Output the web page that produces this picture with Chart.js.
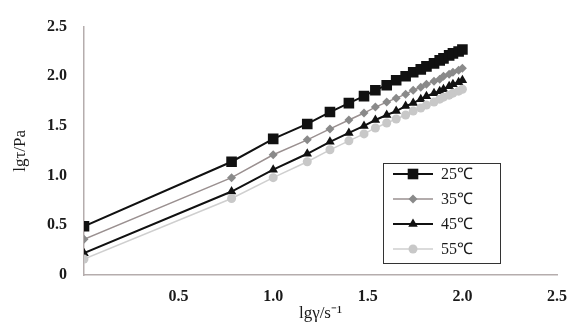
<!DOCTYPE html>
<html>
<head>
<meta charset="utf-8">
<script src="https://cdn.jsdelivr.net/npm/chart.js@4.4.1/dist/chart.umd.min.js"></script>
<style>
html,body{margin:0;padding:0;background:#fff;}
#wrap{width:579px;height:330px;position:relative;}
</style>
</head>
<body>
<div id="wrap"><canvas id="c" width="579" height="330"></canvas></div>
<script>
const lgRate = [0, 0.78, 1.0, 1.18, 1.30, 1.40, 1.48, 1.54, 1.60, 1.65, 1.70, 1.74, 1.78, 1.81, 1.85, 1.88, 1.90, 1.93, 1.95, 1.98, 2.0];
const t25 = [0.49, 1.14, 1.37, 1.52, 1.64, 1.73, 1.80, 1.86, 1.91, 1.96, 2.00, 2.04, 2.07, 2.10, 2.13, 2.16, 2.18, 2.21, 2.23, 2.25, 2.27];
const t35 = [0.36, 0.98, 1.21, 1.36, 1.47, 1.56, 1.63, 1.69, 1.74, 1.78, 1.82, 1.86, 1.89, 1.92, 1.95, 1.97, 2.00, 2.02, 2.04, 2.06, 2.08];
const t45 = [0.22, 0.84, 1.06, 1.22, 1.34, 1.43, 1.50, 1.56, 1.61, 1.65, 1.70, 1.73, 1.77, 1.80, 1.83, 1.85, 1.87, 1.90, 1.92, 1.94, 1.96];
const t55 = [0.16, 0.77, 0.98, 1.14, 1.26, 1.35, 1.42, 1.48, 1.53, 1.57, 1.61, 1.65, 1.68, 1.71, 1.74, 1.77, 1.79, 1.81, 1.83, 1.85, 1.87];
const seriesLabels = ['25℃', '35℃', '45℃', '55℃'];
const xTicks = [0.5, 1.0, 1.5, 2.0, 2.5];
const yTicks = [0, 0.5, 1.0, 1.5, 2.0, 2.5];

const FONT = '"Liberation Serif", "Times New Roman", serif';
const TXT = '#1a1a1a';
const AXIS = '#b5adad';

function pts(ys){ return lgRate.map((x,i)=>({x:x,y:ys[i]})); }

const styles = [
  {color:'#111111', line:'#111111', width:2, point:'rect', r:7.5},
  {color:'#8a8a8a', line:'#9a9090', width:1.5, point:'rectRot', r:4.5},
  {color:'#111111', line:'#111111', width:2, point:'triangle', r:5.5},
  {color:'#c8c8c8', line:'#cfcfcf', width:1.5, point:'circle', r:4.5}
];
const allData = [t25, t35, t45, t55];

const datasets = allData.map((d,i)=>({
  label: seriesLabels[i],
  data: pts(d),
  borderColor: styles[i].line,
  backgroundColor: styles[i].color,
  pointBackgroundColor: styles[i].color,
  pointBorderColor: styles[i].color,
  pointBorderWidth: 0,
  borderWidth: styles[i].width,
  pointStyle: styles[i].point,
  pointRadius: styles[i].r,
  pointHoverRadius: styles[i].r,
  tension: 0,
  order: 4 - i
}));

function drawMarker(ctx, style, r, x, y, color){
  ctx.save();
  ctx.fillStyle = color;
  ctx.beginPath();
  if (style === 'rect') {
    const s = Math.SQRT1_2 * r;
    ctx.rect(x - s, y - s, 2*s, 2*s);
  } else if (style === 'rectRot') {
    ctx.moveTo(x, y - r); ctx.lineTo(x + r, y); ctx.lineTo(x, y + r); ctx.lineTo(x - r, y); ctx.closePath();
  } else if (style === 'triangle') {
    ctx.moveTo(x, y - r);
    ctx.lineTo(x + r*Math.cos(Math.PI/6), y + r*0.5);
    ctx.lineTo(x - r*Math.cos(Math.PI/6), y + r*0.5);
    ctx.closePath();
  } else {
    ctx.arc(x, y, r, 0, Math.PI*2);
  }
  ctx.fill();
  ctx.restore();
}

const legendBox = {
  id: 'legendBox',
  afterDatasetsDraw(chart){
    const ctx = chart.ctx;
    const bx = 383, by = 163, bw = 117, bh = 100;
    ctx.save();
    ctx.fillStyle = '#ffffff';
    ctx.fillRect(bx, by, bw, bh);
    ctx.strokeStyle = '#333333';
    ctx.lineWidth = 1;
    ctx.strokeRect(bx + 0.5, by + 0.5, bw, bh);
    chart.data.datasets.forEach((ds, i) => {
      const y = 174 + i * 25;
      ctx.strokeStyle = ds.borderColor;
      ctx.lineWidth = ds.borderWidth;
      ctx.beginPath();
      ctx.moveTo(393, y); ctx.lineTo(433, y);
      ctx.stroke();
      drawMarker(ctx, ds.pointStyle, ds.pointRadius, 413, y, ds.pointBackgroundColor);
      ctx.fillStyle = TXT;
      ctx.font = '16px ' + FONT;
      ctx.textBaseline = 'middle';
      ctx.textAlign = 'left';
      ctx.fillText(ds.label, 441, y + 1);
    });
    ctx.restore();
  }
};

new Chart(document.getElementById('c'), {
  type: 'line',
  data: { datasets: datasets },
  plugins: [legendBox],
  options: {
    responsive: false,
    animation: false,
    events: [],
    layout: { padding: { top: 22, right: 16, left: 0, bottom: 0 } },
    plugins: { legend: { display: false }, tooltip: { enabled: false } },
    scales: {
      x: {
        type: 'linear',
        min: 0, max: 2.5,
        afterBuildTicks(s){ s.ticks = [0].concat(xTicks).map(v=>({value:v})); },
        afterFit(s){ s.height = 55; },
        grid: { display: false, drawTicks: false },
        border: { display: true, color: AXIS, width: 1.5 },
        ticks: {
          padding: 12,
          color: TXT,
          font: { family: FONT, size: 16, weight: 'bold' },
          maxRotation: 0,
          callback(v){ return v === 0 ? '' : v.toFixed(1); }
        },
        title: {
          display: true,
          text: 'lgγ/s⁻¹',
          color: TXT,
          font: { family: FONT, size: 17 },
          padding: { top: 0, bottom: 6 }
        }
      },
      y: {
        type: 'linear',
        min: 0, max: 2.5,
        afterBuildTicks(s){ s.ticks = yTicks.map(v=>({value:v})); },
        afterFit(s){ s.width = 84; },
        grid: { display: false, drawTicks: false },
        border: { display: true, color: AXIS, width: 1.5 },
        ticks: {
          padding: 17,
          color: TXT,
          font: { family: FONT, size: 16, weight: 'bold' },
          callback(v){ return v === 0 ? '0' : v.toFixed(1); }
        },
        title: {
          display: true,
          text: 'lgτ/Pa',
          color: TXT,
          font: { family: FONT, size: 17 },
          padding: { top: 10, bottom: 0 }
        }
      }
    }
  }
});
</script>
</body>
</html>
